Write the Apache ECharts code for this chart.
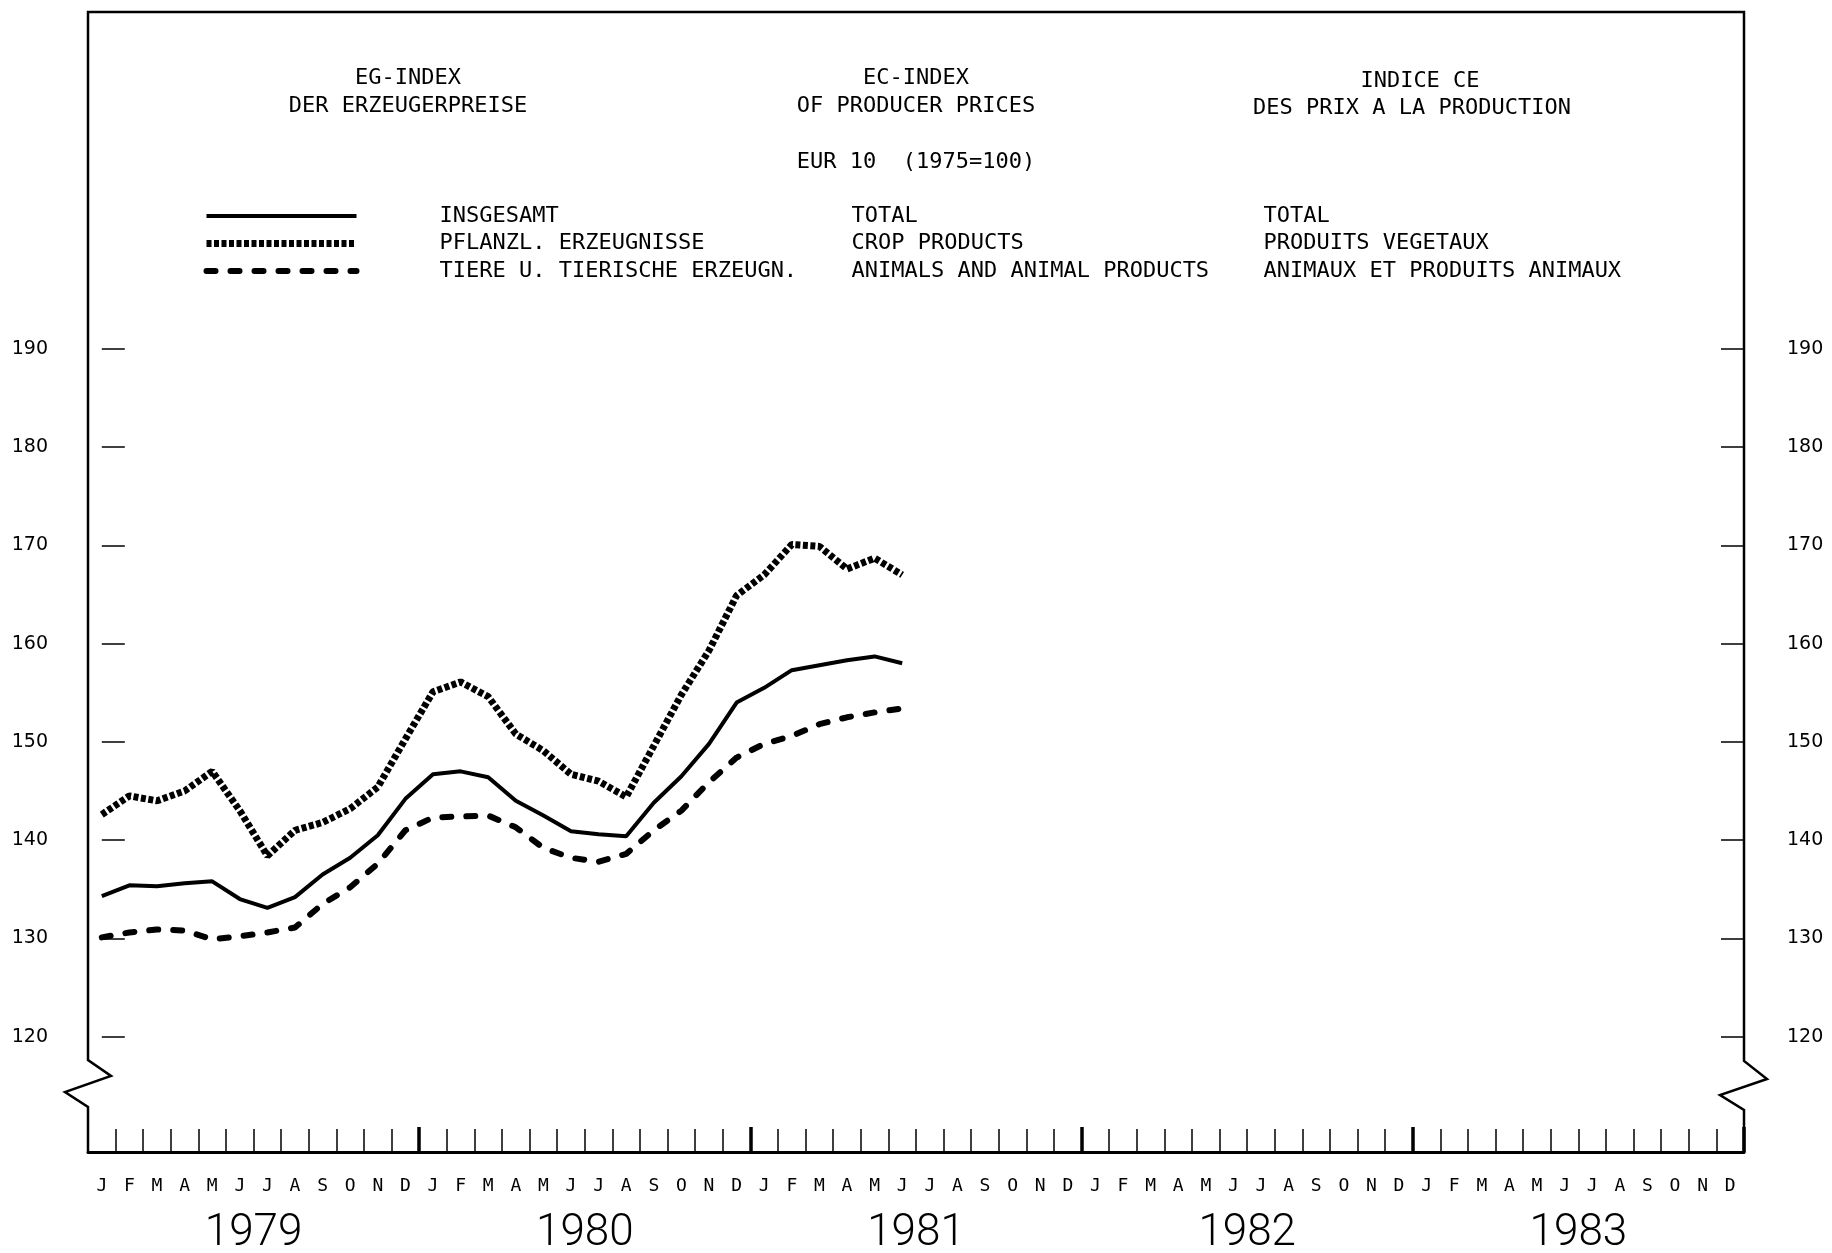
<!DOCTYPE html>
<html><head><meta charset="utf-8">
<script src="https://cdn.jsdelivr.net/npm/echarts@6/dist/echarts.min.js"></script>
<style>html,body{margin:0;padding:0;background:#fff}#c{width:1832px;height:1253px}</style>
</head><body><div id="c"></div>
<script>
const years = ['1979', '1980', '1981', '1982', '1983'];
const monthLetters = ['J', 'F', 'M', 'A', 'M', 'J', 'J', 'A', 'S', 'O', 'N', 'D'];
const yTicks = [120, 130, 140, 150, 160, 170, 180, 190];
const yearLabelPositions = [5.5, 17.5, 29.5, 41.5, 53.5];

// Jan 1979 .. Jun 1981
const total = [134.3, 135.4, 135.3, 135.6, 135.8, 134.0, 133.1, 134.2, 136.5, 138.2, 140.5, 144.2,
               146.7, 147.0, 146.4, 144.0, 142.5, 140.9, 140.6, 140.4, 143.8, 146.5, 149.8, 154.0,
               155.5, 157.3, 157.8, 158.3, 158.7, 158.0];
const crop = [142.6, 144.5, 144.0, 145.0, 147.0, 143.0, 138.4, 141.0, 141.8, 143.2, 145.4, 150.3,
              155.1, 156.1, 154.6, 150.8, 149.1, 146.7, 146.0, 144.4, 149.6, 154.8, 159.3, 164.9,
              167.0, 170.1, 169.9, 167.6, 168.7, 167.0];
const animals = [130.1, 130.6, 130.9, 130.8, 129.9, 130.2, 130.6, 131.1, 133.5, 135.2, 137.6, 141.0,
                 142.3, 142.4, 142.5, 141.3, 139.2, 138.2, 137.8, 138.6, 141.0, 143.0, 145.9, 148.4,
                 149.8, 150.6, 151.8, 152.5, 153.0, 153.4];

const namesDe = ['INSGESAMT', 'PFLANZL. ERZEUGNISSE', 'TIERE U. TIERISCHE ERZEUGN.'];
const namesEn = ['TOTAL', 'CROP PRODUCTS', 'ANIMALS AND ANIMAL PRODUCTS'];
const namesFr = ['TOTAL', 'PRODUITS VEGETAUX', 'ANIMAUX ET PRODUITS ANIMAUX'];

const headerLines = [
  ['EG-INDEX', 408, 78], ['DER ERZEUGERPREISE', 408, 106],
  ['EC-INDEX', 916, 78], ['OF PRODUCER PRICES', 916, 106],
  ['INDICE CE', 1420, 81], ['DES PRIX A LA PRODUCTION', 1412, 108],
  ['EUR 10  (1975=100)', 916, 162]
];

const categories = [];
years.forEach(y => monthLetters.forEach((m, i) => categories.push(y + '-' + String(i + 1).padStart(2, '0'))));

const MONO = 'DejaVu Sans Mono';
const FS = 22;
const chart = echarts.init(document.getElementById('c'));

const framePts = [[88, 1152], [88, 1107], [65, 1092], [111, 1076], [88, 1060], [88, 12], [1744, 12],
                  [1744, 1061], [1767, 1079], [1720, 1095], [1744, 1110], [1744, 1153]];

const graphics = [{
  type: 'polyline', silent: true,
  shape: { points: framePts },
  style: { stroke: '#000', lineWidth: 2.5, fill: null }
}];
headerLines.forEach(([t, x, y]) => graphics.push({
  type: 'text', x: x, y: y, silent: true,
  style: { text: t, fontFamily: MONO, fontSize: FS, fill: '#000',
           textAlign: 'center', textVerticalAlign: 'middle', align: 'center', verticalAlign: 'middle' }
}));

const yAxisCommon = {
  type: 'value', min: 108.25, max: 224.3,
  axisLine: { show: false }, splitLine: { show: false },
  axisTick: { show: true, inside: true, length: 23, customValues: yTicks, lineStyle: { color: '#000', width: 1.5 } },
  axisLabel: { customValues: yTicks, fontFamily: 'DejaVu Sans', fontSize: 19, color: '#000', padding: [0, 0, 12, 0] }
};

const richText = { fontFamily: MONO, fontSize: FS, color: '#000', lineHeight: 22 };
const seriesWidths = [4, 7, 6];

chart.setOption({
  animation: false,
  backgroundColor: '#fff',
  grid: { left: 88, right: 88, top: 12, bottom: 101, containLabel: false, outerBoundsMode: 'none' },
  legend: {
    left: 198, top: 200, orient: 'vertical', itemWidth: 150, itemHeight: 14, itemGap: 5.5,
    selectedMode: false,
    itemStyle: { opacity: 0 },
    data: namesDe.map((n, i) => ({ name: n, lineStyle: { width: seriesWidths[i] } })),
    formatter: name => {
      const i = namesDe.indexOf(name);
      return '{s|}{a|' + namesDe[i] + '}{b|' + namesEn[i] + '}{c|' + namesFr[i] + '}';
    },
    textStyle: {
      color: '#000', fontFamily: MONO, fontSize: FS, lineHeight: 22,
      rich: {
        s: Object.assign({ width: 78 }, richText),
        a: Object.assign({ width: 412 }, richText),
        b: Object.assign({ width: 412 }, richText),
        c: Object.assign({}, richText)
      }
    }
  },
  xAxis: [
    {
      type: 'category', data: categories, boundaryGap: true, position: 'bottom',
      axisLine: { lineStyle: { color: '#000', width: 3 } },
      axisTick: { show: true, inside: true, length: 23, interval: 0, lineStyle: { color: '#000', width: 1.5 } },
      axisLabel: { interval: 0, formatter: (v, i) => monthLetters[i % 12], fontFamily: MONO, fontSize: 18, color: '#000', margin: 25 },
      splitLine: { show: false }
    },
    {
      type: 'category', data: categories, boundaryGap: true, position: 'bottom',
      axisLine: { show: false },
      axisTick: { show: true, inside: true, length: 25, interval: (i) => i > 0 && i % 12 === 0, lineStyle: { color: '#000', width: 3.5 } },
      axisLabel: { show: false }, splitLine: { show: false }
    },
    {
      type: 'value', min: -0.5, max: 59.5, position: 'bottom',
      axisLine: { show: false }, axisTick: { show: false }, splitLine: { show: false },
      axisLabel: {
        customValues: yearLabelPositions,
        formatter: v => years[Math.round((v - 5.5) / 12)],
        fontFamily: 'Roboto', fontWeight: 300, fontSize: 44, color: '#000', margin: 60
      }
    }
  ],
  yAxis: [
    Object.assign({}, yAxisCommon, { position: 'left', axisLabel: Object.assign({}, yAxisCommon.axisLabel, { margin: 40 }) }),
    Object.assign({}, yAxisCommon, { position: 'right', axisLabel: Object.assign({}, yAxisCommon.axisLabel, { margin: 43 }) })
  ],
  series: [
    { name: namesDe[0], type: 'line', data: total, symbol: 'none', xAxisIndex: 0, yAxisIndex: 0,
      itemStyle: { color: '#000' }, lineStyle: { color: '#000', width: seriesWidths[0] } },
    { name: namesDe[1], type: 'line', data: crop, symbol: 'none', xAxisIndex: 0, yAxisIndex: 0,
      itemStyle: { color: '#000' }, lineStyle: { color: '#000', width: seriesWidths[1], type: [5, 2.5] } },
    { name: namesDe[2], type: 'line', data: animals, symbol: 'none', xAxisIndex: 0, yAxisIndex: 0,
      itemStyle: { color: '#000' }, lineStyle: { color: '#000', width: seriesWidths[2], cap: 'round', type: [9, 15] } }
  ],
  graphic: graphics
});
</script>
</body></html>
